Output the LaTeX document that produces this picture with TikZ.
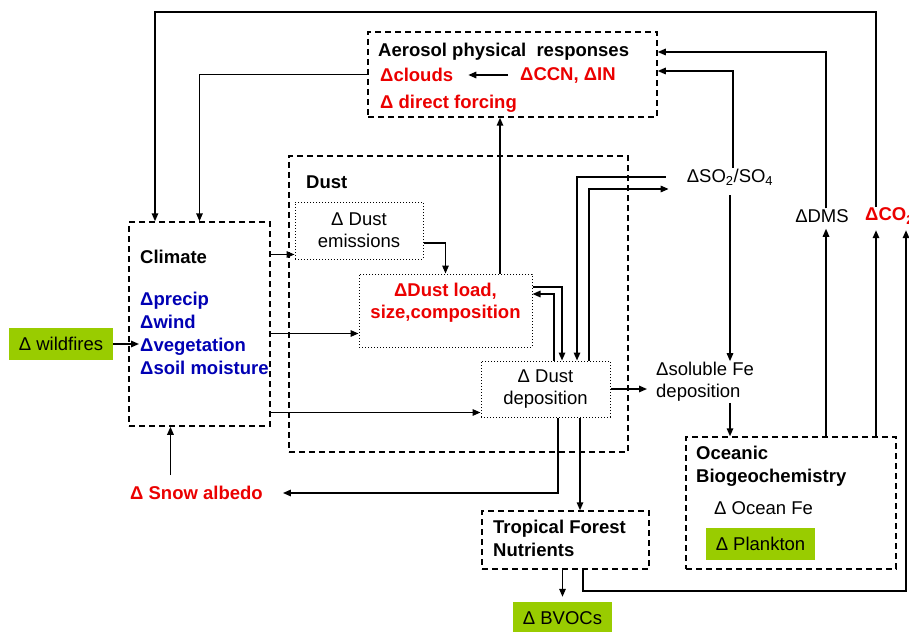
\documentclass[tikz,border=0pt]{standalone}
\usepackage{fontspec}
\setmainfont{Liberation Sans}
\usetikzlibrary{arrows.meta}
\definecolor{dred}{RGB}{235,0,0}
\definecolor{dblue}{RGB}{0,0,180}
\definecolor{leaf}{RGB}{153,204,0}
\tikzset{
  txt/.style={inner sep=1pt, align=left, font=\fontsize{18.5}{22}\selectfont},
  btxt/.style={txt, font=\fontsize{18.5}{23}\selectfont\bfseries},
  dashbox/.style={draw, line width=1.5pt, dash pattern=on 6pt off 4pt, inner sep=0pt},
  dotbox/.style={draw, line width=1pt, dash pattern=on 1pt off 2pt, inner sep=0pt},
  leafbox/.style={fill=leaf, inner sep=0pt},
  link/.style={line width=1.5pt, -{Triangle[length=8pt,width=6.5pt]}},
}
\begin{document}
\begin{tikzpicture}[x=1pt,y=-1pt]
			\fill[white] (0,0) rectangle (909,631);
			\useasboundingbox (0,0) rectangle (909,631);

			% Boxes
			\node[dashbox, minimum width=289pt, minimum height=85pt] (aero) at (512.5,74.5) {};
			\node[dashbox, minimum width=141pt, minimum height=204pt] (climate) at (199.5,324) {};
			\node[dashbox, minimum width=339pt, minimum height=296pt] (dust) at (458.5,304) {};
			\node[txt, dotbox, align=center, minimum width=128pt, minimum height=57pt] (emis) at (359,230.5) {Δ Dust\\emissions};
			\node[dotbox, minimum width=173pt, minimum height=73pt] (load) at (445.5,310.5) {};
			\node[txt, dotbox, align=center, minimum width=129pt, minimum height=56pt] (dep) at (545.5,389) {Δ Dust\\deposition};
			\node[dashbox, minimum width=210pt, minimum height=132pt] (ocean) at (791,503) {};
			\node[dashbox, minimum width=167pt, minimum height=58pt] (forest) at (565.5,540) {};
			\node[txt, leafbox, minimum width=104pt, minimum height=32pt] (wild) at (61,344) {Δ wildfires};
			\node[txt, leafbox, minimum width=109pt, minimum height=32pt] (plankton) at (760.5,544) {Δ Plankton};
			\node[txt, leafbox, minimum width=99pt, minimum height=32pt] (bvoc) at (562.5,618) {Δ BVOCs};

			% Text Nodes
			\node[btxt, anchor=west] (aerotitle) at (377,52) {Aerosol physical\ \ responses};
			\node[btxt, anchor=west, text=dred] (clouds) at (379,75) {Δclouds};
			\node[btxt, anchor=west, text=dred] (ccn) at (519,75) {ΔCCN, ΔIN};
			\node[btxt, anchor=west, text=dred] (direct) at (379,104) {Δ direct forcing};
			\node[btxt, anchor=west] (dusttitle) at (305,182) {Dust};
			\node[btxt, anchor=west] (climtitle) at (139,257) {Climate};
			\node[btxt, anchor=west, text=dblue] (vars) at (139,333.5) {Δprecip\\Δwind\\Δvegetation\\Δsoil moisture};
			\node[btxt, align=center, text=dred, font=\fontsize{18.5}{22}\selectfont\bfseries] (loadtxt) at (445.5,303) {ΔDust load,\\size,composition};
			\node[txt] (so2) at (730,177) {ΔSO\textsubscript{2}/SO\textsubscript{4}};
			\node[txt, anchor=west] (solfe) at (655,382) {Δsoluble Fe\\deposition};
			\node[txt] (dms) at (822,216) {ΔDMS};
			\node[btxt, anchor=west, text=dred] (co2) at (864,216) {ΔCO\textsubscript{2}};
			\node[btxt, anchor=west, text=dred] (snow) at (129,493) {Δ Snow albedo};
			\node[btxt, anchor=west] (oceantitle) at (695,466.5) {Oceanic\\Biogeochemistry};
			\node[txt, anchor=west] (oceanfe) at (713,508) {Δ Ocean Fe};
			\node[btxt, anchor=west] (foresttitle) at (492,538.5) {Tropical Forest\\Nutrients};

			% Free ends
			\coordinate (loopT) at (155,12);
			\coordinate (fc) at (906,591);
			\coordinate (ce) at ([yshift=5pt]emis.south west);
			\coordinate (cl) at ([yshift=14pt]load.south west);
			\coordinate (cd) at ([yshift=5pt]dep.south west);
			\coordinate (la) at ([xshift=54.5pt]load.north);
			\coordinate (s1) at ([xshift=-20pt]so2.west);
			\coordinate (s2) at ([xshift=-17pt,yshift=-12pt]so2.west);
			\coordinate (sn) at ([xshift=-26pt,yshift=10pt]snow.north);

			% Connectors
			\draw[link] ([xshift=12pt]co2.north west) |- (loopT) -- (loopT |- climate.north);
			\draw[link] (aero.west) -| (climate.north);
			\draw[link, shorten >=14pt, shorten <=11pt] (ccn.west) -- (clouds.east);
			\draw[link] (la) -- (la |- aero.south);
			\draw[link] (climate.east |- ce) -- (ce);
			\draw[link] (climate.east |- cl) -- (cl);
			\draw[link] (climate.east |- cd) -- (cd);
			\draw[link] ([yshift=-12.5pt]emis.east) -| (load.north);
			\draw[link] ([yshift=23.5pt]load.east) -| ([xshift=16.5pt]dep.north);
			\draw[link] ([xshift=8.5pt]dep.north) |- ([yshift=16.5pt]load.east);
			\draw[link] (s1) -| ([xshift=31.5pt]dep.north);
			\draw[link] ([xshift=43.5pt]dep.north) |- (s2);
			\draw[link] ([xshift=3pt]so2.north) |- ([yshift=3.5pt]aero.east);
			\draw[link] ([yshift=-9pt]so2.south) -- (so2.south |- solfe.north);
			\draw[link, shorten >=8pt] (dep.east) -- (dep.east -| solfe.west);
			\draw[link] (so2.south |- solfe.south) -- (so2.south |- ocean.north);
			\draw[link, shorten >=5pt] ([xshift=35pt]ocean.north) -- ([xshift=35pt]ocean.north |- dms.south);
			\draw[link] ([xshift=4pt]dms.north) |- ([yshift=22.5pt]aero.east);
			\draw[link, shorten >=5pt] ([xshift=85pt]ocean.north) -- ([xshift=85pt]ocean.north |- co2.south);
			\draw[link, shorten >=5pt] ([xshift=17.5pt]forest.south) |- (fc) -- (fc |- co2.south);
			\draw[link] ([xshift=34.5pt]dep.south) -- ([xshift=34.5pt]dep.south |- forest.north);
			\draw[link] ([xshift=12.5pt]dep.south) |- ([xshift=19pt]snow.east);
			\draw[link] (sn) -- (sn |- climate.south);
			\draw[link, shorten >=5pt] (bvoc.north |- forest.south) -- (bvoc.north);
			\draw[link] (wild.east) -- (wild.east -| vars.west);

\end{tikzpicture}
\end{document}
